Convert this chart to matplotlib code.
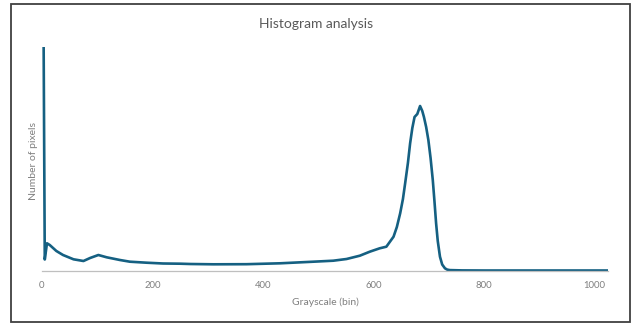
import matplotlib.pyplot as plt
from matplotlib.patches import Rectangle

# Data (pixel counts in arbitrary units)
grayscale = [3, 5, 9, 14, 26, 38, 57, 75, 87, 102, 117, 141, 159, 189, 219, 250, 268,
             310, 370, 431, 491, 527, 551, 575, 593, 611, 623, 636, 642, 648, 653, 657, 662,
             666, 670, 674, 679, 684, 688, 691, 695, 699, 703, 707, 710, 713, 716, 720, 724,
             729, 733, 738, 760, 800, 900, 1024]
counts = [223, 11.5, 27.7, 26, 20, 16, 11.7, 10, 13, 16, 13.7, 11, 9.3, 8.3, 7.5, 7.3, 7,
          6.7, 6.8, 7.7, 9.3, 10.3, 12, 15.3, 19.3, 22.7, 24.3, 34.3, 44, 57.7, 72, 87.7, 108,
          127.7, 143, 154, 157, 165, 160, 154, 144, 131, 113, 91, 70, 47.7, 30, 14.3, 6.5,
          2.7, 1.4, 0.9, 0.6, 0.5, 0.5, 0.5]
xticks = [0, 200, 400, 600, 800, 1000]

W, H = 632, 324
fig = plt.figure(figsize=(W / 100, H / 100), dpi=100)
fig.patch.set_facecolor('white')

# outer chart border
fig.patches.append(Rectangle((11 / W, 1 - 322 / H), (630 - 11) / W, (322 - 4) / H,
                             transform=fig.transFigure, fill=False,
                             edgecolor='#404040', linewidth=1.3))

ax = fig.add_axes([42 / W, 1 - 271 / H, (608 - 42) / W, (271 - 47) / H])
ax.plot(grayscale, counts, color='#156082', linewidth=1.9, solid_joinstyle='round')
ax.set_xlim(0, 1024)
ax.set_ylim(0, 224)

for s in ['top', 'right', 'left']:
    ax.spines[s].set_visible(False)
ax.spines['bottom'].set_color('#bfbfbf')
ax.spines['bottom'].set_linewidth(0.9)
ax.set_yticks([])
ax.set_xticks(xticks)
ax.set_xticklabels([str(t) for t in xticks], fontsize=6.8, color='#7f7f7f', family='Lato')
ax.tick_params(axis='x', length=0, pad=7)

fig.text(316 / W, 1 - 24 / H, 'Histogram analysis', ha='center', va='center',
         fontsize=10, color='#595959', family='Lato')
fig.text(325 / W, 1 - 302 / H, 'Grayscale (bin)', ha='center', va='center',
         fontsize=7.5, color='#7f7f7f', family='Lato')
fig.text(33 / W, 1 - 161 / H, 'Number of pixels', ha='center', va='center',
         rotation=90, fontsize=7.5, color='#7f7f7f', family='Lato')

fig.savefig('out.png', dpi=100)
